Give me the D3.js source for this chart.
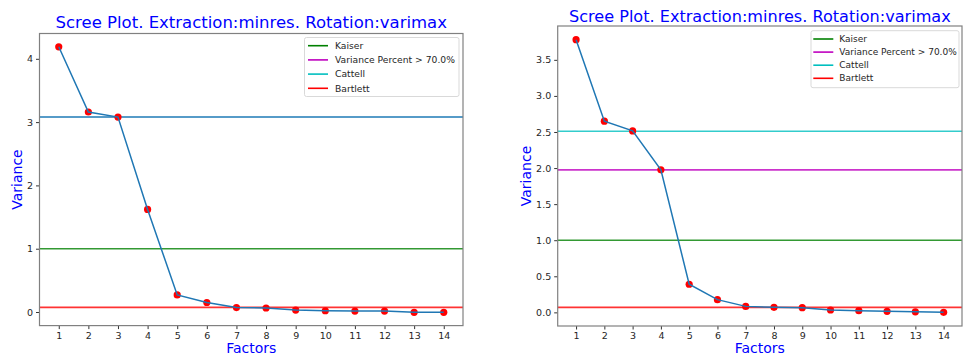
<!DOCTYPE html>
<html><head><meta charset="utf-8">
<script src="https://cdn.jsdelivr.net/npm/d3@7"></script>
<style>body{margin:0;background:#fff}svg{display:block}text{font-family:"DejaVu Sans",sans-serif}</style>
</head><body><svg id="c" width="964" height="355"></svg>
<script>
const factors = [1,2,3,4,5,6,7,8,9,10,11,12,13,14];
const titleText = "Scree Plot. Extraction:minres. Rotation:varimax";
const leftValues  = [4.19,3.16,3.08,1.62,0.27,0.15,0.07,0.063,0.03,0.02,0.015,0.015,-0.005,-0.005];
const rightValues = [3.78,2.65,2.515,1.975,0.39,0.176,0.083,0.07,0.065,0.033,0.023,0.014,0.007,0.0];
const lineNames  = ["Kaiser","Variance Percent > 70.0%","Cattell","Bartlett"];
const lineColors = ["#008000","#bf00bf","#00bfbf","#ff0000"];
const leftLines  = [1.0, 3.08, 3.08, 0.073];
const rightLines = [1.0, 1.975, 2.51, 0.069];
const leftYTicks  = [0,1,2,3,4];
const rightYTicks = [0,0.5,1,1.5,2,2.5,3,3.5];

const svg = d3.select("#c");

function panel(o){
  const g = svg.append("g");
  const x = d3.scaleLinear().domain([0.35,14.65]).range([o.x0,o.x1]);
  const all = o.values.concat(o.lines);
  const mn = d3.min(all), mx = d3.max(all), pad = (mx-mn)*0.05;
  const y = d3.scaleLinear().domain([mn-pad,mx+pad]).range([o.y1,o.y0]);

  o.lines.forEach((v,i)=>{
    g.append("line").attr("x1",o.x0).attr("x2",o.x1).attr("y1",y(v)).attr("y2",y(v))
      .attr("stroke",lineColors[i]).attr("stroke-width",1.6).attr("stroke-opacity",0.8);
  });
  g.selectAll("circle.p").data(o.values).enter().append("circle")
    .attr("cx",(d,i)=>x(factors[i])).attr("cy",d=>y(d)).attr("r",3.6).attr("fill","#ff0000");
  g.append("path").datum(o.values)
    .attr("d",d3.line().x((d,i)=>x(factors[i])).y(d=>y(d)))
    .attr("fill","none").attr("stroke","#1f77b4").attr("stroke-width",1.5);

  const ax = d3.axisBottom(x).tickValues(factors).tickSize(3.5).tickPadding(3);
  const gx = g.append("g").attr("transform",`translate(0,${o.y1})`).call(ax);
  const ay = d3.axisLeft(y).tickValues(o.yTicks).tickSize(3.5).tickPadding(3).tickFormat(o.yFmt);
  const gy = g.append("g").attr("transform",`translate(${o.x0},0)`).call(ay);
  [gx,gy].forEach(a=>{
    a.select(".domain").remove();
    a.selectAll(".tick line").attr("stroke","#333");
    a.selectAll(".tick text").attr("fill","#262626").style("font-size","9.5px").style("font-family","DejaVu Sans");
  });
  g.append("rect").attr("x",o.x0).attr("y",o.y0).attr("width",o.x1-o.x0).attr("height",o.y1-o.y0)
    .attr("fill","none").attr("stroke","#808080").attr("stroke-width",1.2);

  g.append("text").attr("x",(o.x0+o.x1)/2).attr("y",o.titleY).attr("text-anchor","middle")
    .attr("fill","#0000ff").style("font-size",o.titleSize+"px").text(titleText);
  g.append("text").attr("x",(o.x0+o.x1)/2).attr("y",o.xlabY).attr("text-anchor","middle")
    .attr("fill","#0000ff").style("font-size","14px").text("Factors");
  g.append("text").attr("transform",`translate(${o.ylabX},${(o.y0+o.y1)/2}) rotate(-90)`)
    .attr("text-anchor","middle").attr("fill","#0000ff").style("font-size","14px").text("Variance");

  const L = o.leg;
  g.append("rect").attr("x",L.x).attr("y",L.y).attr("width",L.w).attr("height",L.h).attr("rx",2)
    .attr("fill","#fff").attr("fill-opacity",0.8).attr("stroke","#d9d9d9");
  lineNames.forEach((n,i)=>{
    const yy = L.ey + i*L.dy;
    g.append("line").attr("x1",L.hx).attr("x2",L.hx+20).attr("y1",yy).attr("y2",yy)
      .attr("stroke",lineColors[i]).attr("stroke-width",1.6);
    g.append("text").attr("x",L.tx).attr("y",yy).attr("dy","0.35em").attr("fill","#262626")
      .style("font-size",L.fs+"px").text(n);
  });
}

panel({x0:39.5,x1:463,y0:33.5,y1:325.6,values:leftValues,lines:leftLines,yTicks:leftYTicks,
  yFmt:d3.format("d"),titleY:28,titleSize:16.5,xlabY:353,ylabX:22,
  leg:{x:304.5,y:37.5,w:154.5,h:59,ey:45.7,dy:14.2,hx:308,tx:335,fs:9.2}});
panel({x0:557.7,x1:962,y0:26,y1:326,values:rightValues,lines:rightLines,yTicks:rightYTicks,
  yFmt:d3.format(".1f"),titleY:21.5,titleSize:16.1,xlabY:353,ylabX:531,
  leg:{x:811,y:30.7,w:148,h:57,ey:39,dy:13.1,hx:813.3,tx:839.3,fs:9}});
</script></body></html>
